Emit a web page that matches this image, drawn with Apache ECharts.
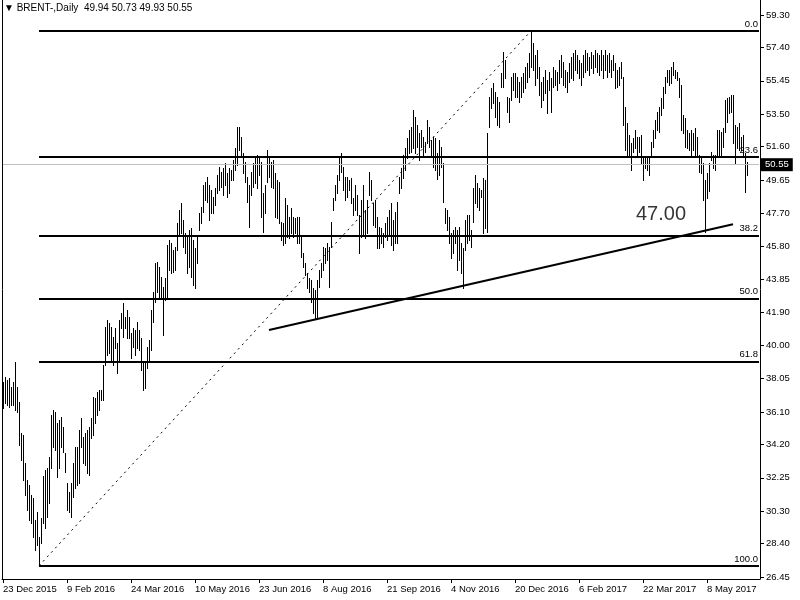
<!DOCTYPE html>
<html><head><meta charset="utf-8">
<script src="https://cdn.jsdelivr.net/npm/echarts@6/dist/echarts.min.js"></script>
<style>html,body{margin:0;padding:0;background:#fff}#c{width:800px;height:600px}</style>
</head><body><div id="c"></div>
<script>
const symbolName = 'BRENT-,Daily';
const lastOHLC = [49.94, 50.73, 49.93, 50.55];
const tickLabels = ['23 Dec 2015','9 Feb 2016','24 Mar 2016','10 May 2016','23 Jun 2016','8 Aug 2016',
  '21 Sep 2016','4 Nov 2016','20 Dec 2016','6 Feb 2017','22 Mar 2017','8 May 2017'];
const priceTicks = [59.30,57.40,55.45,53.50,51.60,49.65,47.70,45.80,43.85,41.90,40.00,38.05,36.10,34.20,32.25,30.30,28.40,26.45];

const highs = [
37.87,38.12,37.97,38.06,37.58,37.87,39.04,37.58,36.70,34.85,
34.75,33.09,32.12,31.83,31.24,31.05,29.78,30.27,28.81,29.88,
32.34,32.71,32.80,33.48,35.92,36.21,36.11,35.43,35.63,35.82,
35.24,33.68,31.93,31.44,31.93,33.09,34.07,34.07,35.04,35.72,
34.65,34.85,35.04,35.24,35.72,36.99,36.89,37.28,37.38,37.38,
38.84,41.08,41.47,41.28,41.08,40.50,40.99,40.11,41.47,41.86,
42.45,41.67,42.06,41.67,
40.69,40.99,40.89,41.38,40.89,40.40,38.94,39.04,39.91,40.30,
42.06,43.13,44.78,44.88,44.59,44.00,43.42,43.91,45.86,46.15,
45.95,45.56,45.76,47.12,47.90,48.29,47.32,46.54,46.34,46.73,
46.83,46.15,45.66,46.44,47.71,48.10,49.36,49.56,49.85,49.36,
49.07,48.68,49.17,49.95,50.43,50.14,50.34,50.63,50.05,50.34,
50.24,50.83,51.51,52.77,52.77,52.19,51.21,50.73,49.85,49.36,
50.14,50.63,50.92,51.12,50.92,
50.73,48.88,49.36,51.41,50.92,50.73,50.82,50.05,49.66,49.56,
47.22,47.12,48.58,48.20,47.51,48.00,47.51,47.41,47.51,47.51,
46.44,45.37,44.79,44.20,43.91,43.81,43.32,43.22,43.81,44.40,
44.79,45.76,45.66,45.95,45.76,47.22,48.58,49.36,49.95,50.92,
51.21,50.43,49.85,49.85,49.66,49.75,48.58,49.36,48.78,47.61,
48.49,49.36,47.90,48.49,50.14,49.66,48.29,48.49,47.51,46.93,
46.83,46.54,47.12,47.51,47.90,
48.29,47.32,47.81,48.39,49.85,50.34,51.12,51.51,52.09,52.58,
52.77,53.75,53.36,52.87,52.38,52.58,52.19,51.90,53.16,52.77,
51.99,52.19,52.09,51.21,51.99,51.60,50.63,47.99,47.90,47.51,
46.54,46.73,46.93,46.73,46.93,45.95,45.66,47.32,47.61,47.61,
46.73,49.17,49.95,49.46,49.17,49.07,49.75,49.65,52.40,54.53,
55.01,55.31,54.82,54.53,54.23,55.89,57.16,56.67,54.53,54.43,
55.70,55.89,55.89,55.70,55.40,
55.70,55.89,56.28,56.47,57.06,58.37,57.65,56.96,57.25,56.28,
55.40,55.70,56.09,55.50,55.99,55.60,56.28,56.09,55.99,56.67,
56.96,56.57,56.09,55.99,56.47,56.86,57.06,57.25,56.96,56.67,
56.47,56.96,57.25,57.06,56.86,57.16,56.96,57.25,57.06,56.96,
57.25,56.96,57.25,56.96,57.06,56.67,56.96,56.47,56.09,56.28,
56.57,55.70,53.94,52.97,52.29,51.80,52.09,52.58,52.19,52.19,
52.29,51.02,51.02,51.02,51.02,51.90,52.58,53.16,53.65,53.94,
54.43,55.11,55.70,56.09,56.09,56.28,56.57,56.09,55.99,55.60,
55.21,53.45,53.26,52.58,52.38,52.58,52.38,52.68,52.19,51.12,
51.02,50.63,49.66,50.05,50.63,51.31,51.12,51.12,52.58,52.58,
52.48,52.68,54.33,54.43,54.53,54.63,54.63,52.87,52.77,52.97,
52.19,52.29,51.21,50.73
];
const lows = [
36.31,36.60,36.50,36.41,36.50,36.50,36.21,36.11,34.17,33.29,
32.12,31.24,30.37,29.78,29.59,28.81,28.03,28.32,27.10,28.42,
29.59,29.30,29.98,30.76,32.80,34.07,33.87,32.31,32.80,34.07,
33.78,32.61,30.37,30.27,29.98,31.15,31.63,31.83,31.93,34.07,
33.09,33.00,32.51,32.41,34.56,34.75,35.43,35.92,36.21,36.80,
36.80,38.84,39.43,39.52,39.13,38.84,39.82,38.36,39.04,40.99,
40.50,40.99,40.40,40.40,
39.23,39.91,39.43,39.82,39.72,38.55,37.38,37.48,38.65,39.04,
39.72,41.38,42.55,43.13,42.84,42.74,40.60,42.64,42.84,44.40,
44.20,44.30,44.40,45.56,46.44,46.54,45.76,45.37,44.20,44.59,
44.00,43.52,43.32,44.78,46.73,47.12,47.81,48.49,48.39,47.32,
47.71,47.71,48.20,48.88,49.07,49.27,48.78,49.36,48.68,48.88,
49.66,49.66,50.24,50.53,51.41,51.02,50.05,49.56,48.39,46.93,
48.78,49.27,49.46,49.17,49.95,
47.51,46.64,47.71,49.56,49.85,49.27,49.17,47.51,47.41,47.12,
46.15,45.86,45.95,46.34,46.25,46.54,46.34,46.54,45.95,45.95,
45.17,44.59,44.10,43.32,43.13,42.54,41.86,41.57,41.57,43.42,
44.00,44.40,44.79,44.98,43.42,45.76,47.90,48.49,48.88,49.66,
50.14,49.07,48.49,48.68,49.07,48.29,47.61,47.90,47.61,45.37,
46.34,46.44,46.25,46.54,48.78,48.49,47.03,46.93,45.66,45.66,
45.95,45.76,46.34,46.15,46.44,
45.86,45.56,45.95,45.95,48.88,49.17,49.75,50.24,50.92,51.21,
51.31,51.51,51.21,51.60,50.82,51.60,51.12,51.31,51.80,51.60,
51.12,50.43,50.24,49.69,49.95,50.43,48.39,47.12,46.73,45.95,
45.08,45.37,45.95,44.40,44.98,44.20,43.32,45.56,45.95,46.15,
45.76,47.22,48.29,48.10,47.90,48.68,46.54,46.85,46.60,52.77,
53.84,54.14,53.36,52.87,52.77,55.11,55.11,55.60,53.65,53.07,
54.33,54.92,54.53,54.53,54.23,
54.53,54.82,55.01,55.40,55.70,56.28,56.09,55.21,55.60,54.63,
53.94,54.33,54.72,53.60,54.92,53.65,55.11,55.21,54.92,55.31,
55.70,55.21,55.11,54.82,55.40,55.60,55.50,56.09,55.89,55.60,
55.21,55.70,55.99,56.09,55.79,56.18,55.89,56.28,55.99,55.79,
56.09,55.60,56.09,55.70,55.99,55.70,56.09,55.01,55.11,55.21,
55.60,52.87,51.41,51.12,51.02,50.24,51.31,51.51,51.12,51.31,
50.63,49.66,50.34,50.24,49.95,51.02,51.60,52.09,52.58,52.48,
53.45,53.85,54.72,55.40,55.21,55.31,55.79,55.60,55.50,54.53,
52.58,52.38,51.60,51.51,51.41,51.12,51.41,51.02,51.12,50.14,
50.05,48.50,46.64,48.60,49.00,50.83,50.34,50.24,51.02,51.12,
51.02,51.60,52.48,53.07,53.55,53.65,51.80,50.63,51.51,51.41,
51.41,51.02,48.97,49.93
];

const fibAnchorLow = [18, 27.10];
const fibAnchorHigh = [264, 58.37];
const fibRatios = [0.0, 23.6, 38.2, 50.0, 61.8, 100.0];
const trendLine = [[133, 40.89], [365, 47.07]];
const noteText = '47.00';
const notePos = [329, 47.64];
const currentPrice = 50.55;

const N = 379;
const categories = Array.from({length: N}, (_, i) =>
  (i % 32 === 0 && tickLabels[i / 32]) ? tickLabels[i / 32] : String(i));
const bars = highs.map((h, i) => [i, h, lows[i]]);
const fibLevels = fibRatios.map(r => ({
  ratio: r,
  price: fibAnchorHigh[1] - (fibAnchorHigh[1] - fibAnchorLow[1]) * r / 100
}));

const FONT = 'Liberation Sans';
const chart = echarts.init(document.getElementById('c'), null, {renderer: 'canvas'});
const ymin = 26.333, ymax = 60.177;

chart.setOption({
  animation: false,
  backgroundColor: '#ffffff',
  title: {
    text: '\u25BC ' + symbolName + '  ' + lastOHLC.map(v => v.toFixed(2)).join(' '),
    left: 4, top: 3, padding: 0,
    textStyle: {fontSize: 10, fontWeight: 'normal', color: '#000', fontFamily: FONT}
  },
  grid: {left: 2, right: 40, top: 0, bottom: 21, containLabel: false},
  xAxis: {
    type: 'category', data: categories, boundaryGap: true,
    axisLine: {show: true, lineStyle: {color: '#000', width: 1}},
    axisTick: {show: true, length: 4, alignWithLabel: true, interval: (i) => i % 32 === 0, lineStyle: {color: '#000'}},
    axisLabel: {show: true, interval: (i) => i % 32 === 0, align: 'left', margin: 5,
      color: '#000', fontSize: 9.5, fontFamily: FONT},
    splitLine: {show: false}
  },
  yAxis: [{
    type: 'value', position: 'right', min: ymin, max: ymax, scale: true,
    axisLine: {show: true, lineStyle: {color: '#000', width: 1}},
    axisTick: {show: true, length: 4, customValues: priceTicks, lineStyle: {color: '#000'}},
    axisLabel: {show: true, customValues: priceTicks, formatter: v => v.toFixed(2), margin: 6,
      color: '#000', fontSize: 9.5, fontFamily: FONT},
    splitLine: {show: false}
  }, {
    type: 'value', position: 'left', min: ymin, max: ymax,
    axisLine: {show: true, lineStyle: {color: '#000', width: 1}},
    axisTick: {show: false}, axisLabel: {show: false}, splitLine: {show: false}
  }],
  series: [
    {
      type: 'custom', name: 'bars', data: bars, encode: {x: 0, y: [1, 2]}, z: 3,
      renderItem: (params, api) => {
        const i = api.value(0);
        const t = api.coord([i, api.value(1)]);
        const b = api.coord([i, api.value(2)]);
        const x = Math.round(t[0]) + 0.5;
        return {type: 'line', shape: {x1: x, y1: Math.round(t[1]), x2: x, y2: Math.round(b[1]) + 1},
          style: {stroke: '#000', lineWidth: 1}};
      }
    },
    {
      type: 'line', name: 'fibDiagonal', data: [fibAnchorLow, fibAnchorHigh], z: 4,
      showSymbol: false, silent: true,
      lineStyle: {color: '#000', width: 1, type: [2, 4]},
      markLine: {
        silent: true, symbol: ['none', 'none'], animation: false,
        lineStyle: {color: '#000', width: 2, type: 'solid'},
        label: {show: true, position: 'insideEndTop', formatter: '{b}', distance: [1, 2],
          color: '#000', fontSize: 9.5, fontFamily: FONT},
        data: fibLevels.map(f => [
          {name: f.ratio.toFixed(1), coord: [fibAnchorLow[0], f.price]},
          {coord: [N - 1, f.price]}
        ]).concat([
          [{name: currentPrice.toFixed(2), coord: [0, currentPrice],
            lineStyle: {color: '#c0c0c0', width: 1, type: 'solid'},
            label: {show: true, position: 'end', distance: 2, formatter: currentPrice.toFixed(2),
              backgroundColor: '#000', color: '#fff', padding: [2, 4, 1, 4], fontSize: 9.5, fontFamily: FONT}},
           {coord: [N - 1, currentPrice]}]
        ])
      }
    },
    {
      type: 'line', name: 'trend', data: trendLine, z: 5, showSymbol: false, silent: true,
      lineStyle: {color: '#000', width: 2}
    },
    {
      type: 'scatter', name: 'note', data: [notePos], symbolSize: 1, silent: true,
      itemStyle: {color: 'rgba(0,0,0,0)'},
      label: {show: true, position: 'inside', formatter: noteText, color: '#000', fontSize: 20, fontFamily: FONT}
    }
  ]
});
</script>
</body></html>
